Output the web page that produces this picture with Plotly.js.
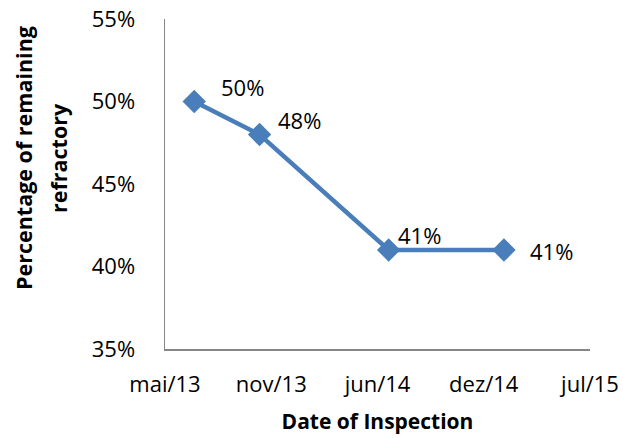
<!DOCTYPE html>
<html><head><meta charset="utf-8">
<script src="https://cdn.plot.ly/plotly-3.0.1.min.js"></script>
<style>html,body{margin:0;padding:0;background:#fff;}#chart{width:623px;height:438px;}</style>
</head><body><div id="chart"></div>
<script>
// Data
const inspectionDates = ['2013-06-25', '2013-10-26', '2014-06-26', '2015-01-29'];
const remaining = [0.50, 0.48, 0.41, 0.41];
const xTickVals = ['2013-05-01', '2013-11-17', '2014-06-05', '2014-12-22', '2015-07-10'];
const xTickText = ['mai/13', 'nov/13', 'jun/14', 'dez/14', 'jul/15'];
const yTickVals = [0.35, 0.40, 0.45, 0.50, 0.55];
const yTitleLines = ['Percentage of remaining', 'refractory'];
const xTitle = 'Date of Inspection';

// Label offsets (style)
const labelShiftX = [48, 40, 31, 48];
const labelShiftY = [15, 15, 15, -1];

const FONT = 'Open Sans, sans-serif';
const blue = '#4A7EBB';
const plotL = 165, plotR = 590, plotT = 19, plotB = 349;

const annotations = remaining.map((v, i) => ({
  x: inspectionDates[i], y: v, xref: 'x', yref: 'y',
  text: Math.round(v * 100) + '%', showarrow: false,
  xshift: labelShiftX[i], yshift: labelShiftY[i],
  font: {family: FONT, size: 22, color: '#000'}
}));
const yTitleX = [23, 58];
yTitleLines.forEach((t, i) => annotations.push({
  xref: 'paper', yref: 'paper',
  x: (yTitleX[i] - plotL) / (plotR - plotL), y: (plotB - 158) / (plotB - plotT),
  xanchor: 'center', yanchor: 'middle', textangle: -90, showarrow: false,
  text: '<b>' + t + '</b>',
  font: {family: FONT, size: 21.5, color: '#000'}
}));

const trace = {
  x: inspectionDates, y: remaining, type: 'scatter', mode: 'lines+markers',
  line: {color: blue, width: 4.5},
  marker: {symbol: 'diamond', size: 18, color: blue},
  cliponaxis: false, hoverinfo: 'none'
};

const layout = {
  width: 623, height: 438,
  margin: {l: plotL, r: 623 - plotR, t: plotT, b: 438 - plotB},
  paper_bgcolor: '#fff', plot_bgcolor: '#fff',
  showlegend: false,
  font: {family: FONT, size: 22, color: '#000'},
  xaxis: {
    type: 'date', range: [xTickVals[0], xTickVals[xTickVals.length - 1]],
    tickmode: 'array', tickvals: xTickVals, ticktext: xTickText,
    showgrid: false, zeroline: false, showline: true, linecolor: '#868686', linewidth: 1.5,
    ticks: '', ticklabelstandoff: 15,
    tickfont: {family: FONT, size: 22, color: '#000'},
    title: {text: '<b>' + xTitle + '</b>', font: {family: FONT, size: 21, color: '#000'}, standoff: 17}
  },
  yaxis: {
    range: [0.35, 0.55], tickmode: 'array', tickvals: yTickVals, tickformat: '.0%',
    showgrid: false, zeroline: false, showline: true, linecolor: '#868686', linewidth: 1.5,
    ticks: '', ticklabelstandoff: 24,
    tickfont: {family: FONT, size: 22, color: '#000'}
  },
  annotations: annotations
};

Plotly.newPlot('chart', [trace], layout, {staticPlot: true, displayModeBar: false});
</script>
</body></html>
